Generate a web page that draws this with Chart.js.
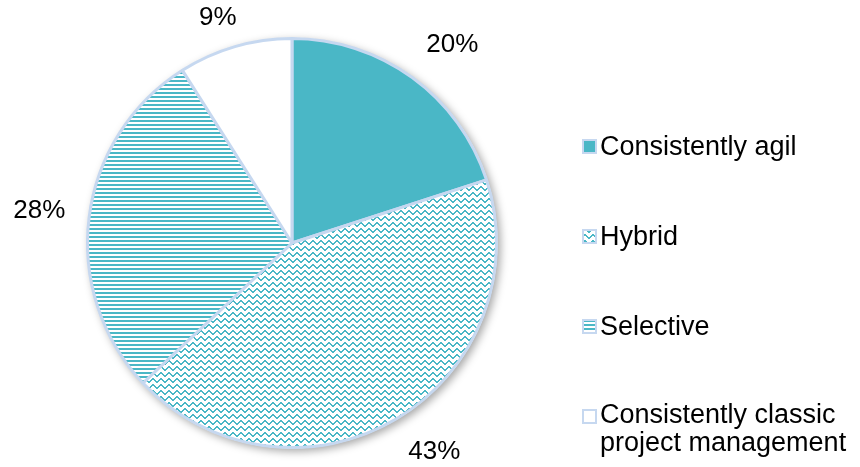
<!DOCTYPE html>
<html>
<head>
<meta charset="utf-8">
<script src="https://cdn.jsdelivr.net/npm/chart.js@4/dist/chart.umd.min.js"></script>
<style>
  html, body { margin: 0; padding: 0; background: #fff; }
  #wrap { width: 860px; height: 467px; position: relative; }
</style>
</head>
<body>
<div id="wrap"><canvas id="pie"></canvas></div>
<script>
// data
const categories = ["Consistently agil", "Hybrid", "Selective", "Consistently classic project management"];
const shares = [20, 43, 28, 9];
const fillKinds = ["solid", "wave", "stripes", "blank"];

const TEAL = "#4ab7c6";
const EDGE = "#c6d8f0";
const FONT = '"Liberation Sans", Arial, sans-serif';

function makePattern(kind) {
  const c = document.createElement("canvas");
  const g = c.getContext("2d");
  if (kind === "solid") return TEAL;
  if (kind === "blank") return "#ffffff";
  if (kind === "stripes") {
    c.width = 4; c.height = 4;
    g.fillStyle = "#fff"; g.fillRect(0, 0, 4, 4);
    g.fillStyle = TEAL; g.fillRect(0, 0, 4, 2);
  } else {
    c.width = 8; c.height = 6;
    g.fillStyle = "#fff"; g.fillRect(0, 0, 8, 6);
    g.fillStyle = TEAL;
    const ys = [0, 0, 1, 2, 3, 3, 2, 1];
    ys.forEach((y, x) => g.fillRect(x, y, 1, 2));
  }
  return g.createPattern(c, "repeat");
}

const ctx = document.getElementById("pie").getContext("2d");
const fills = fillKinds.map(makePattern);

// soft drop shadow under the whole pie
const pieShadow = {
  id: "pieShadow",
  beforeDatasetsDraw(chart) {
    const a = chart.getDatasetMeta(0).data[0];
    if (!a) return;
    const c = chart.ctx;
    c.save();
    c.shadowColor = "rgba(0,0,0,0.35)";
    c.shadowBlur = 9;
    c.shadowOffsetX = 3;
    c.shadowOffsetY = 3;
    c.beginPath();
    c.arc(a.x, a.y, a.outerRadius + 1, 0, Math.PI * 2);
    c.fillStyle = "#fff";
    c.fill();
    c.restore();
  }
};

// percentages outside the slices; the label box sits just off the rim
const pctLabels = {
  id: "pctLabels",
  afterDatasetsDraw(chart) {
    const c = chart.ctx;
    const total = shares.reduce((s, v) => s + v, 0);
    const clamp = v => Math.max(-1, Math.min(1, v));
    c.save();
    c.font = "26px " + FONT;
    c.fillStyle = "#000";
    c.textAlign = "center";
    c.textBaseline = "middle";
    chart.getDatasetMeta(0).data.forEach((arc, i) => {
      const txt = Math.round(shares[i] / total * 100) + "%";
      const w = c.measureText(txt).width, h = 26;
      const mid = (arc.startAngle + arc.endAngle) / 2;
      const d = arc.outerRadius + 24;
      const cx = Math.cos(mid), sy = Math.sin(mid);
      const x = arc.x + cx * d + clamp(cx * 2) * w / 2;
      let y = arc.y + sy * d + clamp(sy * 2) * h / 2;
      y = Math.max(18, Math.min(chart.height - 15, y));
      c.fillText(txt, x, y);
    });
    c.restore();
  }
};

// legend on the right, with wrapped text
const sideLegend = {
  id: "sideLegend",
  afterDraw(chart) {
    const c = chart.ctx;
    const boxX = 582, textX = 600, firstY = 147, step = 90, lineH = 28;
    const maxW = chart.width - textX - 2;
    c.save();
    c.font = "27px " + FONT;
    c.textBaseline = "middle";
    categories.forEach((label, i) => {
      const cy = firstY + i * step;
      c.fillStyle = EDGE;
      c.fillRect(boxX, cy - 8, 15, 15);
      c.fillStyle = fills[i];
      c.fillRect(boxX + 2, cy - 6, 11, 11);
      const words = label.split(" ");
      const lines = [];
      let cur = "";
      words.forEach(w => {
        const t = cur ? cur + " " + w : w;
        if (c.measureText(t).width > maxW && cur) { lines.push(cur); cur = w; }
        else cur = t;
      });
      lines.push(cur);
      c.fillStyle = "#000";
      const top = cy + 1 - (lines.length > 1 ? 2 : 0);
      lines.forEach((ln, k) => c.fillText(ln, textX, top + k * lineH));
    });
    c.restore();
  }
};

new Chart(ctx, {
  type: "pie",
  data: {
    labels: categories,
    datasets: [{
      data: shares,
      backgroundColor: fills,
      borderColor: EDGE,
      borderWidth: 3,
      hoverOffset: 0
    }]
  },
  options: {
    responsive: true,
    maintainAspectRatio: false,
    animation: false,
    layout: { padding: { left: 85, right: 361, top: 37, bottom: 18 } },
    plugins: {
      legend: { display: false },
      tooltip: { enabled: false }
    }
  },
  plugins: [pieShadow, pctLabels, sideLegend]
});
</script>
</body>
</html>
